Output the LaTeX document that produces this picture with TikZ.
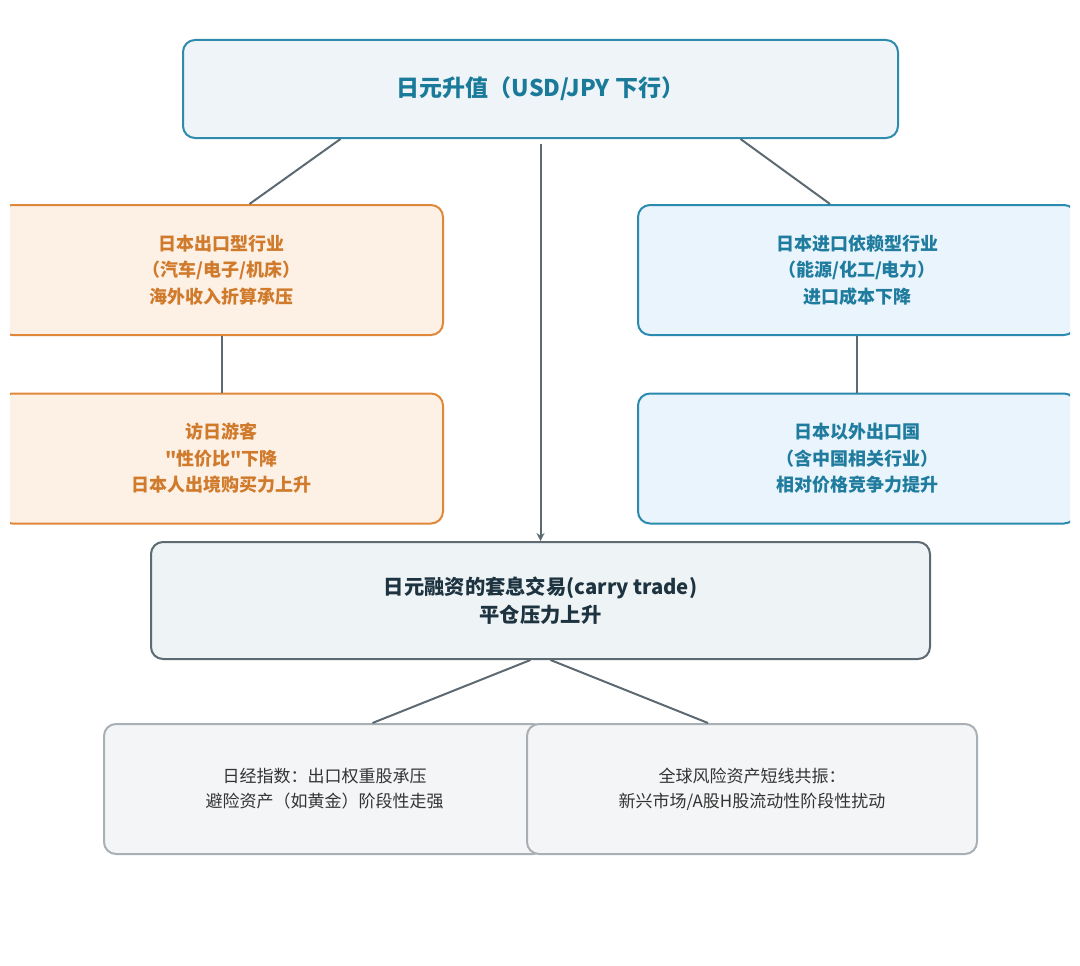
\documentclass[tikz,border=0pt]{standalone}
\usepackage{fontspec}
\setmainfont{Noto Sans CJK SC}
\newfontfamily\cjkfont{Noto Sans CJK SC}
\usetikzlibrary{arrows.meta,calc}
\definecolor{topfill}{HTML}{EEF4F7}
\definecolor{topline}{HTML}{2E8BAE}
\definecolor{toptext}{HTML}{1A7A9A}
\definecolor{orfill}{HTML}{FDF0E5}
\definecolor{orline}{HTML}{E0883A}
\definecolor{ortext}{HTML}{D07A2C}
\definecolor{blfill}{HTML}{E9F4FC}
\definecolor{blline}{HTML}{2A8AB0}
\definecolor{bltext}{HTML}{1F7C9E}
\definecolor{midfill}{HTML}{EEF3F6}
\definecolor{midline}{HTML}{5D6A72}
\definecolor{midtext}{HTML}{1E3340}
\definecolor{botfill}{HTML}{F4F5F7}
\definecolor{botline}{HTML}{A8B0B5}
\definecolor{bottext}{HTML}{333333}
\definecolor{conn}{HTML}{5D6A72}
\tikzset{
  boxbase/.style={rounded corners=12pt, line width=2pt, align=center, inner sep=0pt},
  topbox/.style={boxbase, fill=topfill, draw=topline, text=toptext,
    font=\cjkfont\fontsize{23}{28}\selectfont\bfseries, minimum width=715pt, minimum height=98pt},
  orbox/.style={boxbase, fill=orfill, draw=orline, text=ortext,
    font=\cjkfont\fontsize{18}{26.5}\selectfont\bfseries, minimum width=443pt, minimum height=130pt},
  bluebox/.style={boxbase, fill=blfill, draw=blline, text=bltext,
    font=\cjkfont\fontsize{18}{26.5}\selectfont\bfseries, minimum width=438pt, minimum height=130pt},
  midbox/.style={boxbase, fill=midfill, draw=midline, text=midtext,
    font=\cjkfont\fontsize{20.3}{28}\selectfont\bfseries, minimum width=779pt, minimum height=117pt},
  botbox/.style={boxbase, fill=botfill, draw=botline, text=bottext,
    font=\cjkfont\fontsize{17}{25}\selectfont, minimum height=130pt},
  connline/.style={draw=conn, line width=2pt}
}
\begin{document}
\begin{tikzpicture}[x=1pt,y=-1pt]
\useasboundingbox (0,0) rectangle (1080,966);
\node[topbox] (top) at (540.5,89) {日元升值（USD/JPY 下行）};
\begin{scope}
  \clip (10,0) rectangle (1070,966);
  \node[orbox] (l1) at (221.5,270) {日本出口型行业\\（汽车/电子/机床）\\海外收入折算承压};
  \node[orbox] (l2) at (221.5,458.5) {访日游客\\"性价比"下降\\日本人出境购买力上升};
  \node[bluebox] (r1) at (857,270) {日本进口依赖型行业\\（能源/化工/电力）\\进口成本下降};
  \node[bluebox] (r2) at (857,458.5) {日本以外出口国\\（含中国相关行业）\\相对价格竞争力提升};
\end{scope}
\node[midbox] (mid) at (540.5,600.5) {日元融资的套息交易(carry trade)\\平仓压力上升};
\node[botbox, minimum width=441pt] (bl) at (324.5,789) {日经指数：出口权重股承压\\避险资产（如黄金）阶段性走强};
\node[botbox, minimum width=450pt] (br) at (752,789) {全球风险资产短线共振：\\新兴市场/A股H股流动性阶段性扰动};
% connectors
\draw[connline] ($(top.south)+(-200,0)$) -- ($(l1.north)+(28,0)$);
\draw[connline] ($(top.south)+(200,0)$) -- ($(r1.north)+(-27,0)$);
\draw[connline] (l1.south) -- (l2.north);
\draw[connline] (r1.south) -- (r2.north);
\draw[connline, -{Stealth[length=8pt,width=8pt]}] ($(top.south)+(0,5)$) -- (mid.north);
\draw[connline] ($(mid.south)+(-10,0)$) -- ($(bl.north)+(48,0)$);
\draw[connline] ($(mid.south)+(10,0)$) -- ($(br.north)+(-44,0)$);
\end{tikzpicture}
\end{document}
